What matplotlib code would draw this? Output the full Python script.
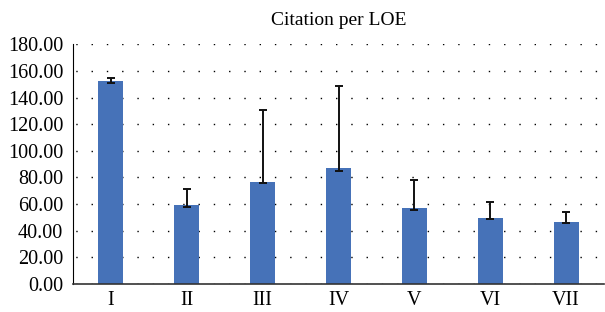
import matplotlib.pyplot as plt

# citation per LOE, mean with error bars
levels = ['I', 'II', 'III', 'IV', 'V', 'VI', 'VII']
means = [152.3, 59.3, 76.5, 87.0, 57.0, 49.5, 46.5]
err_low = [1.5, 1.8, 1.0, 2.0, 1.7, 0.6, 0.7]
err_high = [2.7, 12.2, 54.0, 61.5, 21.0, 11.8, 7.3]

plt.rcParams['font.family'] = ['Liberation Serif', 'DejaVu Serif']

fig = plt.figure(figsize=(6.05, 3.12), dpi=100)
ax = fig.add_axes([73 / 605, 1 - 284 / 312, (604 - 73) / 605, (284 - 44.3) / 312])

x = range(len(levels))
ax.bar(x, means, width=0.33, color='#4672b8', zorder=2)
ax.errorbar(x, means, yerr=[err_low, err_high], fmt='none', ecolor='#111111',
            elinewidth=1.4, capsize=2.7, capthick=1.4, zorder=3)

ax.set_xlim(-0.5, len(levels) - 0.5)
ax.set_ylim(0, 180)
ax.set_yticks(range(0, 181, 20))
ax.set_yticklabels([f'{v:.2f}' for v in range(0, 181, 20)], fontsize=14.5)
ax.set_xticks(list(x))
ax.set_xticklabels(levels, fontsize=14.5)
ax.tick_params(length=0, pad=7)
ax.tick_params(axis='x', pad=5)

ax.yaxis.grid(True, linestyle=(9, (1, 10)), linewidth=1.0, color='black', zorder=0)
ax.set_axisbelow(True)
for s in ['top', 'right']:
    ax.spines[s].set_visible(False)
ax.spines['left'].set_color('black')
ax.spines['bottom'].set_color('#333333')
ax.spines['bottom'].set_linewidth(1.2)

ax.set_title('Citation per LOE', fontsize=14, pad=14)

fig.savefig('out.png', dpi=100)
